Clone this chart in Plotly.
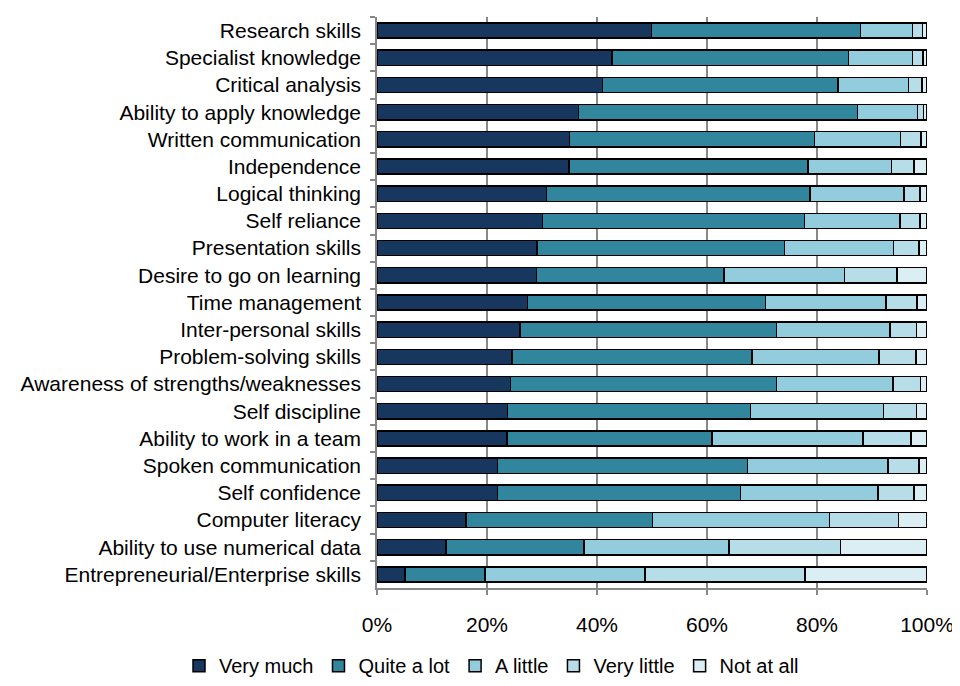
import plotly.graph_objects as go

skills = [
    "Research skills", "Specialist knowledge", "Critical analysis",
    "Ability to apply knowledge", "Written communication", "Independence",
    "Logical thinking", "Self reliance", "Presentation skills",
    "Desire to go on learning", "Time management", "Inter-personal skills",
    "Problem-solving skills", "Awareness of strengths/weaknesses",
    "Self discipline", "Ability to work in a team", "Spoken communication",
    "Self confidence", "Computer literacy", "Ability to use numerical data",
    "Entrepreneurial/Enterprise skills",
]

very_much = [49.9, 42.7, 41.0, 36.6, 35.0, 34.9, 30.8, 30.1, 29.1, 29.0, 27.4,
             26.0, 24.5, 24.3, 23.7, 23.6, 21.9, 21.9, 16.2, 12.5, 5.1]
quite_a_lot = [38.0, 43.0, 42.8, 50.8, 44.5, 43.5, 47.9, 47.6, 45.0, 34.1, 43.2,
               46.6, 43.7, 48.3, 44.2, 37.3, 45.5, 44.2, 33.9, 25.1, 14.5]
a_little = [9.5, 11.7, 12.8, 10.9, 15.7, 15.1, 17.1, 17.4, 19.8, 21.9, 21.9,
            20.7, 23.1, 21.2, 24.2, 27.5, 25.5, 25.0, 32.2, 26.4, 29.1]
very_little = [1.8, 1.9, 2.5, 1.1, 3.7, 4.1, 2.9, 3.6, 4.6, 9.5, 5.7,
               4.8, 6.7, 5.0, 6.0, 8.7, 5.6, 6.5, 12.5, 20.3, 29.1]
not_at_all = [0.8, 0.7, 0.9, 0.6, 1.1, 2.4, 1.3, 1.3, 1.5, 5.5, 1.8,
              1.9, 2.0, 1.2, 1.9, 2.9, 1.5, 2.4, 5.2, 15.7, 22.2]

series_names = ["Very much", "Quite a lot", "A little", "Very little", "Not at all"]
series_values = [very_much, quite_a_lot, a_little, very_little, not_at_all]
colors = ["#17375E", "#31859C", "#93CDDD", "#B7DEE8", "#DBEEF4"]

x_ticks = [0, 20, 40, 60, 80, 100]
x_tick_labels = ["0%", "20%", "40%", "60%", "80%", "100%"]

FONT = "Liberation Sans, Arial, sans-serif"

fig = go.Figure()
for name, vals, col in zip(series_names, series_values, colors):
    fig.add_trace(go.Bar(
        y=skills, x=vals, name=name, orientation="h",
        marker=dict(color=col, line=dict(color="black", width=1.5)),
    ))

fig.update_layout(
    barmode="stack",
    bargap=0.44,
    width=960, height=686,
    margin=dict(l=369, r=41, t=9, b=95),
    paper_bgcolor="white", plot_bgcolor="white",
    font=dict(family=FONT, size=21, color="black"),
    legend=dict(orientation="h", x=-0.36, xanchor="left",
                y=-0.136, yanchor="middle",
                font=dict(size=20), traceorder="normal",
                itemwidth=30, tracegroupgap=0),
    showlegend=True,
)
fig.update_xaxes(
    range=[0, 100], tickvals=x_ticks, ticktext=x_tick_labels,
    showgrid=True, gridcolor="#888888", gridwidth=1.5,
    showline=True, linecolor="#888888", linewidth=1.5,
    ticks="outside", ticklen=5, tickcolor="#888888", tickwidth=1.5,
    zeroline=False, tickfont=dict(size=21), ticklabelstandoff=12,
    automargin=False,
)
fig.update_yaxes(
    autorange="reversed", showgrid=False,
    showline=True, linecolor="#888888", linewidth=1.5,
    ticks="outside", ticklen=5, tickcolor="#888888", tickwidth=1.5,
    tickson="boundaries", tickfont=dict(size=21), ticklabelstandoff=10,
    automargin=False,
)

fig.write_html("out.html")
